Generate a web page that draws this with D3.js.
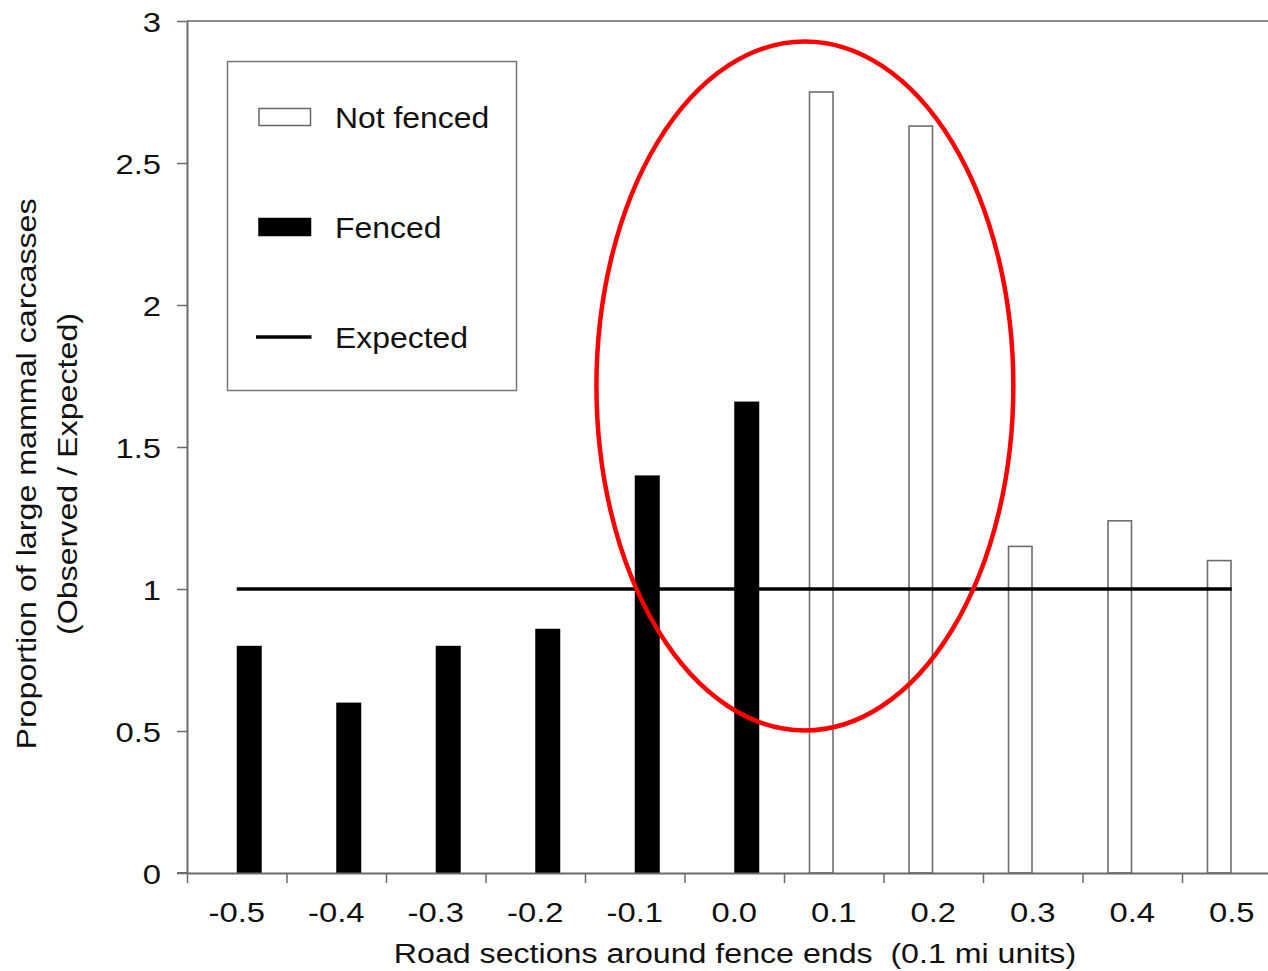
<!DOCTYPE html>
<html>
<head>
<meta charset="utf-8">
<script src="https://cdn.jsdelivr.net/npm/d3@7/dist/d3.min.js"></script>
<style>
  html, body { margin: 0; padding: 0; background: #fff; overflow: hidden; }
  svg { display: block; font-family: "Liberation Sans", Arial, sans-serif; }
  text { fill: #111; }
</style>
</head>
<body>
<svg id="chart" width="1268" height="971"></svg>
<script>
// road sections around fence ends (0.1 mi units)
const sections = ['-0.5', '-0.4', '-0.3', '-0.2', '-0.1', '0.0', '0.1', '0.2', '0.3', '0.4', '0.5'];
const series = ['Not fenced', 'Fenced'];
// observed / expected, 0 where the section has no bar of that kind
const notFenced = [0, 0, 0, 0, 0, 0, 2.75, 2.63, 1.15, 1.24, 1.10];
const fenced = [0.80, 0.60, 0.80, 0.86, 1.40, 1.66, 0, 0, 0, 0, 0];
const expected = [1, 1, 1, 1, 1, 1, 1, 1, 1, 1, 1];
const yTicks = [0, 0.5, 1, 1.5, 2, 2.5, 3];
// highlight ellipse, in section units / y units
const ellipseCx = 0.071, ellipseRx = 0.2095;
const ellipseCy = 1.715, ellipseRy = 1.213;

const svg = d3.select('#chart');
const margin = { left: 187, top: 21, bottom: 873 };
const step = 99.5;
const plotRight = margin.left + step * sections.length;
const stretchK = 1.15;

// widen glyphs a bit, the original text is set wider than Arial
function stretch(sel, k) {
  sel.each(function() {
    const w = this.getComputedTextLength();
    d3.select(this).attr('textLength', w * k).attr('lengthAdjust', 'spacingAndGlyphs');
  });
}

const x = d3.scaleBand().domain(sections).range([margin.left, plotRight]).padding(0);
const bw = x.bandwidth();
const xSub = d3.scaleBand().domain(series).range([bw / 2 - 25, bw / 2 + 25]).padding(0);
const y = d3.scaleLinear().domain([0, 3]).range([margin.bottom, margin.top]);
const xIdx = d3.scaleLinear().domain([0, sections.length]).range([margin.left, plotRight]);
const xSec = d3.scaleLinear().domain([-0.5, 0.5])
  .range([x(sections[0]) + bw / 2, x(sections[sections.length - 1]) + bw / 2]);

// top frame line
svg.append('line')
  .attr('x1', margin.left).attr('x2', plotRight)
  .attr('y1', y(3)).attr('y2', y(3))
  .attr('stroke', '#8a8a8a').attr('stroke-width', 2);

// bars
const rows = sections.map((s, i) => ({ section: s, 'Not fenced': notFenced[i], 'Fenced': fenced[i] }));
const groups = svg.append('g').selectAll('g')
  .data(rows)
  .join('g')
  .attr('transform', d => `translate(${x(d.section)},0)`);

groups.selectAll('rect')
  .data(d => series.map(k => ({ key: k, value: d[k] })).filter(v => v.value > 0))
  .join('rect')
  .attr('x', d => xSub(d.key) + (d.key === 'Not fenced' ? 0.75 : 0))
  .attr('width', d => xSub.bandwidth() - (d.key === 'Not fenced' ? 1.5 : 0))
  .attr('y', d => y(d.value))
  .attr('height', d => y(0) - y(d.value))
  .attr('fill', d => d.key === 'Fenced' ? '#000' : '#fff')
  .attr('stroke', d => d.key === 'Fenced' ? 'none' : '#6e6e6e')
  .attr('stroke-width', 1.6);

// expected line
const line = d3.line()
  .x((d, i) => x(sections[i]) + bw / 2)
  .y(d => y(d));
svg.append('path')
  .datum(expected)
  .attr('d', line)
  .attr('fill', 'none')
  .attr('stroke', '#000')
  .attr('stroke-width', 3.5);

// y axis
const yAxis = svg.append('g')
  .attr('transform', `translate(${margin.left},0)`)
  .call(d3.axisLeft(y).tickValues(yTicks).tickFormat(d3.format('')).tickSize(10).tickPadding(16).tickSizeOuter(0));
yAxis.select('.domain').attr('stroke', '#6a6a6a').attr('stroke-width', 2);
yAxis.selectAll('.tick line').attr('stroke', '#6a6a6a').attr('stroke-width', 1.5);
yAxis.selectAll('.tick text')
  .attr('font-size', 28.5).attr('font-family', '"Liberation Sans", Arial, sans-serif')
  .attr('fill', '#111').attr('dy', '0.36em')
  .call(stretch, stretchK);

// x axis: ticks at section boundaries, labels at centres
const xTicks = svg.append('g')
  .attr('transform', `translate(0,${margin.bottom})`)
  .call(d3.axisBottom(xIdx).tickValues(d3.range(sections.length + 1)).tickFormat('').tickSize(10).tickSizeOuter(0));
xTicks.select('.domain').attr('stroke', '#6a6a6a').attr('stroke-width', 2);
xTicks.selectAll('.tick line').attr('stroke', '#6a6a6a').attr('stroke-width', 1.5);

const xLabels = svg.append('g')
  .attr('transform', `translate(0,${margin.bottom})`)
  .call(d3.axisBottom(x).tickSize(0).tickPadding(29));
xLabels.select('.domain').remove();
xLabels.selectAll('.tick text')
  .attr('font-size', 28.5).attr('font-family', '"Liberation Sans", Arial, sans-serif')
  .attr('fill', '#111')
  .call(stretch, stretchK);

// little stub of the x axis left of the y axis (0 tick)
svg.append('line')
  .attr('x1', margin.left - 10).attr('x2', margin.left)
  .attr('y1', y(0)).attr('y2', y(0))
  .attr('stroke', '#6a6a6a').attr('stroke-width', 2);

// axis titles
svg.append('text')
  .attr('x', 735).attr('y', 963)
  .attr('text-anchor', 'middle')
  .attr('font-size', 27)
  .style('white-space', 'pre')
  .text('Road sections around fence ends  (0.1 mi units)')
  .call(stretch, 1.19);

const yTitle = svg.append('g').attr('transform', 'translate(0,474) rotate(-90)');
yTitle.append('text')
  .attr('x', 0).attr('y', 36)
  .attr('text-anchor', 'middle')
  .attr('font-size', 28)
  .text('Proportion of large mammal carcasses')
  .call(stretch, stretchK);
yTitle.append('text')
  .attr('x', 0).attr('y', 77)
  .attr('text-anchor', 'middle')
  .attr('font-size', 28)
  .text('(Observed / Expected)')
  .call(stretch, stretchK);

// legend
const legend = svg.append('g');
legend.append('rect')
  .attr('x', 227.5).attr('y', 61.5).attr('width', 289).attr('height', 329)
  .attr('fill', '#fff').attr('stroke', '#777').attr('stroke-width', 1.5);

const legendItems = [
  { label: 'Not fenced', kind: 'Not fenced' },
  { label: 'Fenced', kind: 'Fenced' },
  { label: 'Expected', kind: 'Expected' }
];
const li = legend.selectAll('g.item')
  .data(legendItems)
  .join('g')
  .attr('class', 'item')
  .attr('transform', (d, i) => `translate(0,${117 + i * 110})`);

li.filter(d => d.kind !== 'Expected').append('rect')
  .attr('x', 259).attr('y', -8.5).attr('width', 51.5).attr('height', 17)
  .attr('fill', d => d.kind === 'Fenced' ? '#000' : '#fff')
  .attr('stroke', d => d.kind === 'Fenced' ? '#000' : '#666')
  .attr('stroke-width', 1.5);
li.filter(d => d.kind === 'Expected').append('line')
  .attr('x1', 256).attr('x2', 311.5).attr('y1', 0).attr('y2', 0)
  .attr('stroke', '#000').attr('stroke-width', 3.5);
li.append('text')
  .attr('x', 335).attr('y', 10.5)
  .attr('font-size', 29)
  .text(d => d.label)
  .call(stretch, 1.1);

// red highlight ellipse
svg.append('ellipse')
  .attr('cx', xSec(ellipseCx))
  .attr('cy', y(ellipseCy))
  .attr('rx', xSec(ellipseRx) - xSec(0))
  .attr('ry', y(0) - y(ellipseRy))
  .attr('fill', 'none')
  .attr('stroke', '#ff0000')
  .attr('stroke-width', 4.5);
</script>
</body>
</html>
